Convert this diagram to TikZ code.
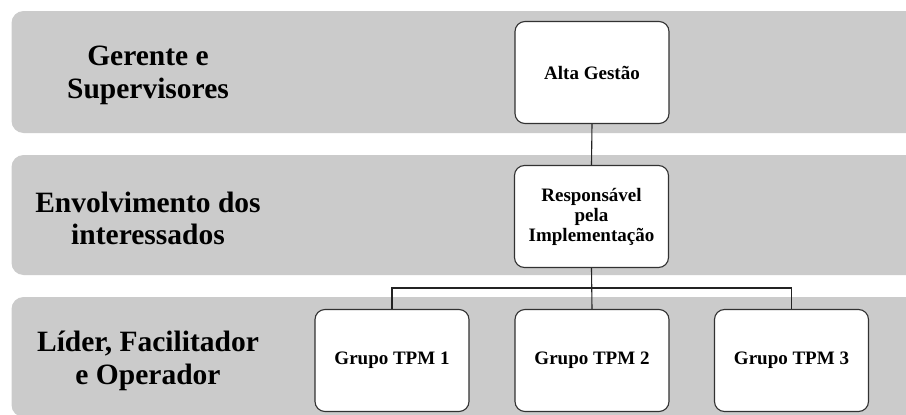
\documentclass[tikz,border=0pt]{standalone}
\usepackage{fontspec}
\setmainfont{Liberation Serif}
\begin{document}
\begin{tikzpicture}[x=1pt,y=-1pt,
  band/.style={fill=bandgray,draw=none,rounded corners=12pt},
  levellabel/.style={align=center,font=\bfseries\fontsize{29.5}{32.5}\selectfont,inner sep=0pt},
  orgbox/.style={draw=boxline,line width=1.1pt,fill=white,rounded corners=10pt,
    minimum width=154pt,minimum height=102pt,inner sep=2pt,align=center,
    font=\bfseries\fontsize{19}{20}\selectfont},
  link/.style={draw=linegray,line width=1.1pt}]
\definecolor{bandgray}{RGB}{203,203,203}
\definecolor{boxline}{RGB}{50,50,50}
\definecolor{linegray}{RGB}{35,35,35}
\useasboundingbox (0,0) rectangle (906,415);
\clip (0,0) rectangle (906,415);

% horizontal level bands
\fill[band] (11.5,11) rectangle (925,133);
\fill[band] (11.5,155) rectangle (925,275);
\fill[band] (11.5,297) rectangle (925,417);

% level captions
\node[levellabel] (lvlA) at (148,75.5) {Gerente e\\Supervisores};
\node[levellabel] (lvlB) at (148,218.5) {Envolvimento dos\\interessados};
\node[levellabel] (lvlC) at (148,361) {Líder, Facilitador\\e Operador};

% organisation chart
\node[orgbox] (alta) at (592,72.5) {Alta Gestão};
\node[orgbox] (resp) at (591.5,216.5) {Responsável\\pela\\Implementação};
\node[orgbox] (g1) at (392,360.5) {Grupo TPM 1};
\node[orgbox] (g2) at (592,360.5) {Grupo TPM 2};
\node[orgbox] (g3) at (791.5,360.5) {Grupo TPM 3};

\coordinate (bus) at (592,288);
\draw[link] (alta.south) -- (resp.north);
\draw[link] (resp.south) -- (g2.north);
\draw[link] (g1.north) |- (bus) -| (g3.north);
\end{tikzpicture}
\end{document}
